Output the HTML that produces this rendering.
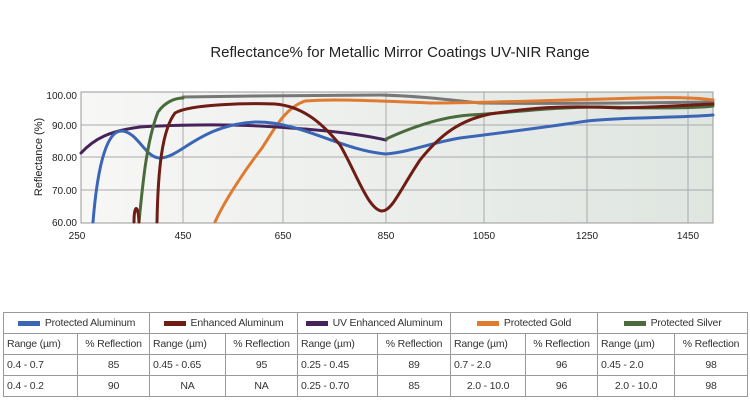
<!DOCTYPE html>
<html><head><meta charset="utf-8"><style>
body{margin:0;width:750px;height:400px;background:#fff;font-family:"Liberation Sans",sans-serif;overflow:hidden;position:relative}
table{position:absolute;left:3px;top:312px;width:744px;border-collapse:collapse;font-size:10.5px;color:#333;table-layout:fixed}
td{border:1px solid #999;height:20px;padding:0 3px;text-align:center;white-space:nowrap;overflow:hidden;letter-spacing:-0.2px}
td.l{text-align:left}
.sw{display:inline-block;width:22px;height:5px;vertical-align:middle;margin-right:5px}
</style></head><body>
<svg width="750" height="310" style="position:absolute;left:0;top:0">
<defs><linearGradient id="g" x1="0" x2="1"><stop offset="0" stop-color="#f7f7f6"/><stop offset="1" stop-color="#dfe5e0"/></linearGradient></defs>
<text x="400" y="57" text-anchor="middle" font-size="15" fill="#222">Reflectance% for Metallic Mirror Coatings UV-NIR Range</text>
<rect x="81" y="92" width="632" height="131" fill="url(#g)" stroke="#999"/>
<g stroke="#aaa" stroke-width="1">
<line x1="81" x2="713" y1="125" y2="125"/><line x1="81" x2="713" y1="157" y2="157"/><line x1="81" x2="713" y1="190" y2="190"/>
<line x1="183" x2="183" y1="92" y2="223"/><line x1="283" x2="283" y1="92" y2="223"/><line x1="386" x2="386" y1="92" y2="223"/><line x1="484" x2="484" y1="92" y2="223"/><line x1="587" x2="587" y1="92" y2="223"/><line x1="688" x2="688" y1="92" y2="223"/>
</g>
<g font-size="10" fill="#222" text-anchor="end">
<text x="77" y="99">100.00</text><text x="77" y="129">90.00</text><text x="77" y="161">80.00</text><text x="77" y="194">70.00</text><text x="77" y="226">60.00</text>
</g>
<g font-size="10" fill="#222" text-anchor="middle">
<text x="77" y="239">250</text><text x="183" y="239">450</text><text x="283" y="239">650</text><text x="386" y="239">850</text><text x="484" y="239">1050</text><text x="587" y="239">1250</text><text x="688" y="239">1450</text>
</g>
<text transform="translate(42,157) rotate(-90)" text-anchor="middle" font-size="11" fill="#222">Reflectance (%)</text>
<g fill="none" stroke-width="3" stroke-linejoin="round" stroke-linecap="round">
<path stroke="#777" d="M183,97 C250,96 330,95 380,95 C420,96 450,100 480,103 C560,104 640,103 713,102"/>
<path stroke="#e07a2e" d="M215,222 C225,200 245,170 262,148 C275,128 285,108 305,101 C330,99 360,100 430,103 C480,103 560,100 640,98 C680,97 700,98 713,100"/>
<path stroke="#46245a" d="M81,153 C95,138 110,131 140,127 C170,125 220,124 260,126 C310,129 350,132 386,140"/>
<path stroke="#3b66b5" d="M93,222 C98,160 108,130 122,131 C138,132 145,158 160,158 C180,158 200,125 255,122 C300,121 340,150 386,154 C410,152 430,143 460,138 C500,133 540,128 587,121 C620,117 680,118 713,115"/>
<path stroke="#4a6c3c" d="M139,222 C143,180 147,140 158,112 C165,102 175,98 183,98"/>
<path stroke="#4a6c3c" d="M386,139 C410,128 440,117 470,115 C520,112 550,107 600,107 C640,108 690,109 713,106"/>
<path stroke="#6e1c14" d="M134,222 C134,205 138,203 139,222 M157,222 C158,170 162,130 175,113 C190,104 250,103 275,104 C300,106 320,120 340,145 C355,170 368,210 382,211 C392,211 400,190 420,160 C440,135 460,120 490,114 C530,108 560,105 620,108 C660,107 690,105 713,104"/>
</g>
</svg>
<table>
<colgroup><col style="width:74px"><col style="width:72px"><col style="width:76px"><col style="width:72px"><col style="width:80px"><col style="width:73px"><col style="width:75px"><col style="width:72px"><col style="width:77px"><col style="width:73px"></colgroup>
<tr><td colspan="2"><span class="sw" style="background:#3b66b5"></span>Protected Aluminum</td><td colspan="2"><span class="sw" style="background:#6e1c14"></span>Enhanced Aluminum</td><td colspan="2"><span class="sw" style="background:#46245a"></span>UV Enhanced Aluminum</td><td colspan="2"><span class="sw" style="background:#e07a2e"></span>Protected Gold</td><td colspan="2"><span class="sw" style="background:#4a6c3c"></span>Protected Silver</td></tr>
<tr><td class="l">Range (µm)</td><td>% Reflection</td><td class="l">Range (µm)</td><td>% Reflection</td><td class="l">Range (µm)</td><td>% Reflection</td><td class="l">Range (µm)</td><td>% Reflection</td><td class="l">Range (µm)</td><td>% Reflection</td></tr>
<tr><td class="l">0.4 - 0.7</td><td>85</td><td class="l">0.45 - 0.65</td><td>95</td><td class="l">0.25 - 0.45</td><td>89</td><td class="l">0.7 - 2.0</td><td>96</td><td class="l">0.45 - 2.0</td><td>98</td></tr>
<tr><td class="l">0.4 - 0.2</td><td>90</td><td>NA</td><td>NA</td><td class="l">0.25 - 0.70</td><td>85</td><td>2.0 - 10.0</td><td>96</td><td>2.0 - 10.0</td><td>98</td></tr>
</table>
</body></html>
